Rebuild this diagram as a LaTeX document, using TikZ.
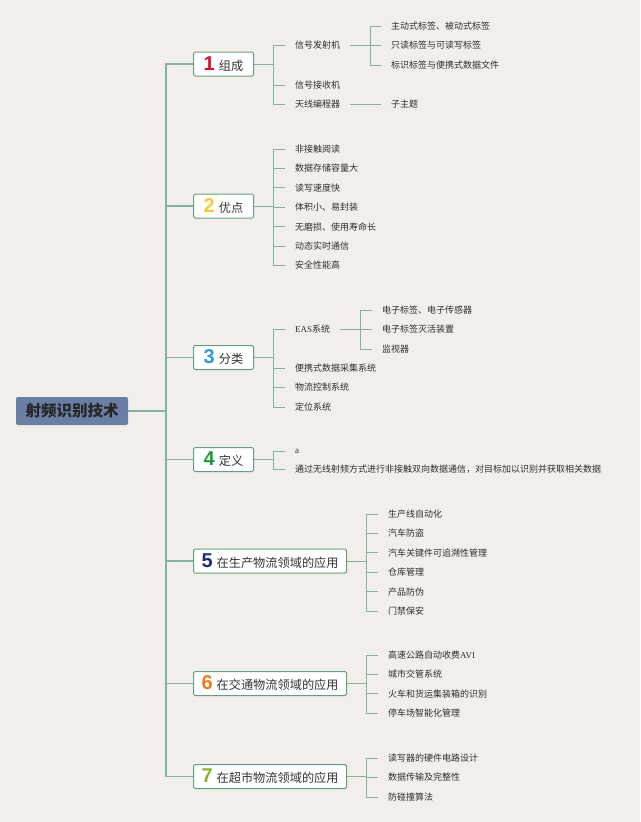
\documentclass[tikz,border=0pt]{standalone}
\usepackage{fontspec}
\setmainfont{Liberation Serif}
\newfontfamily\cjk{Noto Sans CJK SC}
\newfontfamily\lat{Liberation Serif}
\newfontfamily\numfont{Liberation Sans}
\usepackage{tikz}
\usetikzlibrary{positioning,calc}
\definecolor{mapbg}{HTML}{F2EEEA}
\definecolor{mapline}{HTML}{80B49D}
\definecolor{mapedge}{HTML}{62A085}
\definecolor{rootblue}{HTML}{6B7EA5}
\definecolor{numred}{HTML}{D3122E}
\definecolor{numyellow}{HTML}{F5C73A}
\definecolor{numblue}{HTML}{2E9AD6}
\definecolor{numgreen}{HTML}{1F9A3C}
\definecolor{numnavy}{HTML}{1D2C78}
\definecolor{numorange}{HTML}{F07B1C}
\definecolor{numlime}{HTML}{8AB52A}
\newcommand{\topicnum}[2]{{\numfont\bfseries\fontsize{20}{20}\selectfont\color{#1}#2}\hspace{4pt}}
\tikzset{
  rootbox/.style={fill=rootblue, rounded corners=2pt, minimum width=112pt, minimum height=28pt,
    inner sep=0pt, font=\cjk\bfseries\fontsize{15.5}{17}\selectfont, text=black!85},
  topic/.style={draw=mapedge, line width=1pt, fill=white, rounded corners=1.5pt, anchor=west,
    minimum width=60pt, minimum height=24pt, inner xsep=8pt, inner ysep=0pt,
    font=\cjk\fontsize{12.2}{14}\selectfont, text=black!80},
  leaf/.style={anchor=west, inner xsep=10pt, inner ysep=1pt, font=\cjk\fontsize{9}{11}\selectfont, text=black!82},
  trunk/.style={draw=mapline, line width=1.5pt},
  twig/.style={draw=mapline, line width=1pt},
}
\begin{document}
\begin{tikzpicture}[x=1pt,y=-1pt]
  \fill[mapbg] (0,0) rectangle (640,822);
  \useasboundingbox (0,0) rectangle (640,822);

  % root and main topics
  \node[rootbox] (root) at (72,411) {射频识别技术};
  \coordinate (hub) at (166,411);
  \node[topic] (t1) at (193,64) {\topicnum{numred}{1}组成};
  \node[topic] (t2) at (193,206) {\topicnum{numyellow}{2}优点};
  \node[topic] (t3) at (193,357.5) {\topicnum{numblue}{3}分类};
  \node[topic] (t4) at (193,459.5) {\topicnum{numgreen}{4}定义};
  \node[topic, minimum width=153pt] (t5) at (193,561) {\topicnum{numnavy}{5}在生产物流领域的应用};
  \node[topic, minimum width=153pt] (t6) at (193,683.5) {\topicnum{numorange}{6}在交通物流领域的应用};
  \node[topic, minimum width=153pt] (t7) at (193,776.5) {\topicnum{numlime}{7}在超市物流领域的应用};

  \draw[trunk] (root.east) -- (hub);
  \draw[trunk] (t1.west) -| (hub) |- (t7.west);
  \foreach \t in {t2,t3,t4,t5,t6}
    \draw[trunk] (hub |- \t.west) -- (\t.west);

  % 1 组成
  \node[leaf] (fsj) at (285,45) {信号发射机};
  \node[leaf] (jsj) at (285,85) {信号接收机};
  \node[leaf] (bcq) at (285,104) {天线编程器};
  \coordinate (j1) at ($(t1.east)+(19,0)$);
  \draw[twig] (t1.east) -- (j1);
  \draw[twig] (fsj.west) -| (j1 |- bcq.west) -- (bcq.west);
  \draw[twig] (j1 |- jsj.west) -- (jsj.west);

  \node[leaf] (bq1) at (381,26) {主动式标签、被动式标签};
  \node[leaf] (bq2) at (381,45) {只读标签与可读写标签};
  \node[leaf] (bq3) at (381,65) {标识标签与便携式数据文件};
  \coordinate (j11) at ($(fsj.east)+(20,0)$);
  \draw[twig] (fsj.east) -- (j11);
  \draw[twig] (bq1.west) -| (j11 |- bq3.west) -- (bq3.west);
  \draw[twig] (j11 |- bq2.west) -- (bq2.west);
  \node[leaf] (zzt) at (381,104) {子主题};
  \draw[twig] (bcq.east) -- (zzt.west);

  % 2 优点
  \foreach \txt [count=\i] in {非接触阅读,数据存储容量大,读写速度快,体积小、易封装,
      无磨损、使用寿命长,动态实时通信,安全性能高}
    \node[leaf] (g2\i) at (285,149+19.4*\i-19.4) {\txt};
  \coordinate (j2) at ($(t2.east)+(19,0)$);
  \draw[twig] (t2.east) -- (j2);
  \draw[twig] (g21.west) -| (j2 |- g27.west) -- (g27.west);
  \foreach \i in {2,...,6}
    \draw[twig] (j2 |- g2\i.west) -- (g2\i.west);

  % 3 分类
  \node[leaf] (eas) at (285,329) {{\lat EAS}系统};
  \node[leaf] (bxs) at (285,368) {便携式数据采集系统};
  \node[leaf] (wlk) at (285,387) {物流控制系统};
  \node[leaf] (dwx) at (285,407) {定位系统};
  \coordinate (j3) at ($(t3.east)+(19,0)$);
  \draw[twig] (t3.east) -- (j3);
  \draw[twig] (eas.west) -| (j3 |- dwx.west) -- (dwx.west);
  \foreach \n in {bxs,wlk}
    \draw[twig] (j3 |- \n.west) -- (\n.west);

  \node[leaf] (es1) at (372,310) {电子标签、电子传感器};
  \node[leaf] (es2) at (372,329) {电子标签灭活装置};
  \node[leaf] (es3) at (372,349) {监视器};
  \coordinate (j31) at ($(eas.east)+(20,0)$);
  \draw[twig] (eas.east) -- (j31);
  \draw[twig] (es1.west) -| (j31 |- es3.west) -- (es3.west);
  \draw[twig] (j31 |- es2.west) -- (es2.west);

  % 4 定义
  \node[leaf] (dya) at (285,451) {\lat a};
  \node[leaf] (dyb) at (285,469) {通过无线射频方式进行非接触双向数据通信，对目标加以识别并获取相关数据};
  \coordinate (j4) at ($(t4.east)+(19,0)$);
  \draw[twig] (t4.east) -- (j4);
  \draw[twig] (dya.west) -| (j4 |- dyb.west) -- (dyb.west);

  % 5 生产物流
  \foreach \txt [count=\i] in {生产线自动化,汽车防盗,汽车关键件可追溯性管理,仓库管理,产品防伪,门禁保安}
    \node[leaf] (g5\i) at (378,514+19.4*\i-19.4) {\txt};
  \coordinate (j5) at ($(t5.east)+(19,0)$);
  \draw[twig] (t5.east) -- (j5);
  \draw[twig] (g51.west) -| (j5 |- g56.west) -- (g56.west);
  \foreach \i in {2,...,5}
    \draw[twig] (j5 |- g5\i.west) -- (g5\i.west);

  % 6 交通物流
  \foreach \txt [count=\i] in {高速公路自动收费{\lat AVI},城市交管系统,火车和货运集装箱的识别,停车场智能化管理}
    \node[leaf] (g6\i) at (378,655+19.4*\i-19.4) {\txt};
  \coordinate (j6) at ($(t6.east)+(19,0)$);
  \draw[twig] (t6.east) -- (j6);
  \draw[twig] (g61.west) -| (j6 |- g64.west) -- (g64.west);
  \foreach \i in {2,3}
    \draw[twig] (j6 |- g6\i.west) -- (g6\i.west);

  % 7 超市物流
  \foreach \txt [count=\i] in {读写器的硬件电路设计,数据传输及完整性,防碰撞算法}
    \node[leaf] (g7\i) at (378,758+19.5*\i-19.5) {\txt};
  \coordinate (j7) at ($(t7.east)+(19,0)$);
  \draw[twig] (t7.east) -- (j7);
  \draw[twig] (g71.west) -| (j7 |- g73.west) -- (g73.west);
  \draw[twig] (j7 |- g72.west) -- (g72.west);
\end{tikzpicture}
\end{document}
